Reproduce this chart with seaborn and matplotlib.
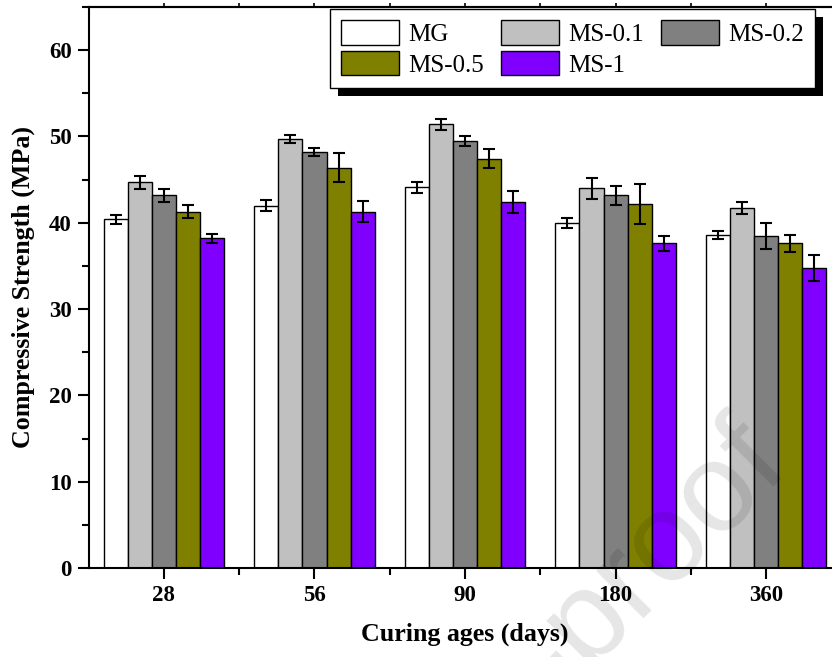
import matplotlib
matplotlib.use("Agg")
import matplotlib.pyplot as plt
import seaborn as sns
import pandas as pd
import numpy as np
from matplotlib.patches import Rectangle
from matplotlib.ticker import MultipleLocator

ages = ["28", "56", "90", "180", "360"]
mixes = ["MG", "MS-0.1", "MS-0.2", "MS-0.5", "MS-1"]
mg = [40.4, 42.0, 44.1, 40.0, 38.6]
ms01 = [44.7, 49.7, 51.4, 44.0, 41.7]
ms02 = [43.2, 48.2, 49.5, 43.2, 38.5]
ms05 = [41.3, 46.4, 47.4, 42.2, 37.6]
ms1 = [38.2, 41.3, 42.4, 37.6, 34.8]
err_mg = [0.55, 0.6, 0.65, 0.55, 0.45]
err_ms01 = [0.75, 0.45, 0.6, 1.2, 0.7]
err_ms02 = [0.75, 0.42, 0.55, 1.1, 1.5]
err_ms05 = [0.8, 1.7, 1.1, 2.3, 1.0]
err_ms1 = [0.55, 1.2, 1.25, 0.85, 1.5]
colors = ["#FFFFFF", "#C0C0C0", "#808080", "#808000", "#8000FF"]

values = [mg, ms01, ms02, ms05, ms1]
errors = [err_mg, err_ms01, err_ms02, err_ms05, err_ms1]

rows = []
for m, vals in zip(mixes, values):
    for a, v in zip(ages, vals):
        rows.append({"Age": a, "Mix": m, "Strength": v})
df = pd.DataFrame(rows)

sns.set_theme(style="ticks")
plt.rcParams["font.family"] = ["Liberation Serif", "DejaVu Serif"]
plt.rcParams["text.color"] = "black"
plt.rcParams["axes.labelcolor"] = "black"
plt.rcParams["xtick.color"] = "black"
plt.rcParams["ytick.color"] = "black"

W, H = 832, 657
fig = plt.figure(figsize=(W / 100, H / 100), dpi=100)
ax = fig.add_axes([88.6 / W, 1 - 568 / H, (841.5 - 88.6) / W, (568 - 7) / H])

sns.barplot(data=df, x="Age", y="Strength", hue="Mix", order=ages,
            hue_order=mixes, palette=colors, errorbar=None,
            edgecolor="black", linewidth=1.0, saturation=1, width=0.8,
            ax=ax, zorder=2)

for cont, errs in zip(ax.containers, errors):
    xs = [p.get_x() + p.get_width() / 2 for p in cont.patches]
    hs = [p.get_height() for p in cont.patches]
    ax.errorbar(xs, hs, yerr=errs, fmt="none", ecolor="black",
                elinewidth=1.5, capsize=4.2, capthick=1.5, zorder=3)

ax.set_xlim(-0.5, 4.5)
ax.set_ylim(0, 65)
ax.yaxis.set_major_locator(MultipleLocator(10))
ax.yaxis.set_minor_locator(MultipleLocator(5))
ax.set_xticks(np.arange(len(ages)))
ax.set_xticks(np.arange(len(ages)) + 0.5, minor=True)
ax.set_xticklabels(ages)

for s in ax.spines.values():
    s.set_visible(True)
    s.set_linewidth(1.5)
    s.set_color("black")

ax.tick_params(axis="both", which="major", direction="out", length=8,
               width=1.5, color="black", labelsize=16.5, pad=4,
               labelcolor="black")
ax.tick_params(axis="both", which="minor", direction="out", length=5,
               width=1.5, color="black")
for lab in ax.get_xticklabels() + ax.get_yticklabels():
    lab.set_fontweight("bold")

top = ax.secondary_xaxis("top")
top.set_xticks(np.arange(len(ages)) + 0.5)
top.set_xticks(np.arange(len(ages)), minor=True)
top.set_xticklabels([])
top.tick_params(which="both", direction="out", length=3, width=1.2,
                color="black")
top.spines["top"].set_linewidth(1.5)

ax.set_xlabel("Curing ages (days)", fontsize=18.7, fontweight="bold",
              labelpad=12, color="black")
ax.set_ylabel("Compressive Strength (MPa)", fontsize=18.7, fontweight="bold",
              labelpad=10, color="black")

handles, labels = ax.get_legend_handles_labels()
order = [0, 3, 1, 4, 2]
leg = ax.legend([handles[i] for i in order], [labels[i] for i in order],
                loc="upper left", bbox_to_anchor=(330 / W, 1 - 9 / H),
                bbox_transform=fig.transFigure, ncol=3, frameon=True,
                fancybox=False, framealpha=1, borderaxespad=0, borderpad=0.45,
                handlelength=2.32, handleheight=1.12, handletextpad=0.36,
                columnspacing=0.68, labelspacing=0.2,
                prop={"family": ["Liberation Serif"], "size": 18})
leg.get_frame().set_edgecolor("black")
leg.get_frame().set_facecolor("white")
leg.get_frame().set_linewidth(1.0)
for t in leg.get_texts():
    t.set_color("black")
leg.set_zorder(10)

fig.canvas.draw()
bb = leg.get_window_extent()
shadow = Rectangle((bb.x0 + 8, bb.y0 - 8), bb.width, bb.height,
                   transform=None, facecolor="black", edgecolor="none",
                   zorder=9)
ax.add_artist(shadow)
shadow.set_clip_on(False)

fig.text(792 / W, 1 - 470 / H, "Journal Pre-proof", fontsize=91,
         family=["Liberation Sans"], color="black", alpha=0.1,
         rotation=45, rotation_mode="anchor", ha="right", va="baseline",
         zorder=20)

fig.savefig("out.png", dpi=100)
